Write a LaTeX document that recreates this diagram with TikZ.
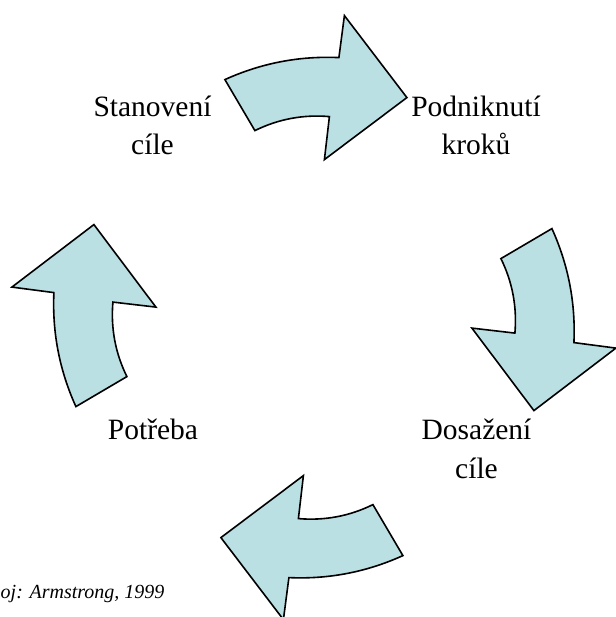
\documentclass[tikz,border=0pt]{standalone}
\usepackage{fontspec}
\setmainfont{Liberation Serif}
\definecolor{arrowfill}{RGB}{187,224,227}
\begin{document}
\begin{tikzpicture}[x=1pt,y=-1pt,
  cyclearrow/.style={draw=black, line width=1.6pt, line join=miter, fill=arrowfill},
  label/.style={font=\fontsize{29.5}{38.5}\selectfont, align=center, inner sep=0pt, anchor=base},
  source/.style={font=\fontsize{20}{22}\selectfont\itshape, inner sep=0pt, anchor=base west}]
\useasboundingbox (0,0) rectangle (615,617);
\coordinate (ctr) at (313.9,317.6);
\foreach \ang/\nm in {0/a1,-90/a2,-180/a3,90/a4}{
  \begin{scope}[shift={(ctr)}, rotate=\ang]
    \draw[cyclearrow] (-89,-238) coordinate (\nm-tail)
      .. controls (-52.8,-254.4) and (-14.8,-261.8) .. (25,-260)
      -- (30.5,-302) -- (93,-220) coordinate (\nm-tip) -- (10.5,-158) -- (15.5,-201)
      .. controls (-10.6,-203.2) and (-35.5,-198.6) .. (-59,-187) -- cycle;
  \end{scope}
}
\node[label] (stanoveni) at (152.5,155) {Stanovení\\cíle};
\node[label] (podniknuti) at (476,155) {Podniknutí\\kroků};
\node[label] (dosazeni) at (476.5,478.3) {Dosažení\\cíle};
\node[label] (potreba) at (153,439.3) {Potřeba};
\node[source] (zdroj) at (0.5,598) {oj: Armstrong, 1999};
\end{tikzpicture}
\end{document}
